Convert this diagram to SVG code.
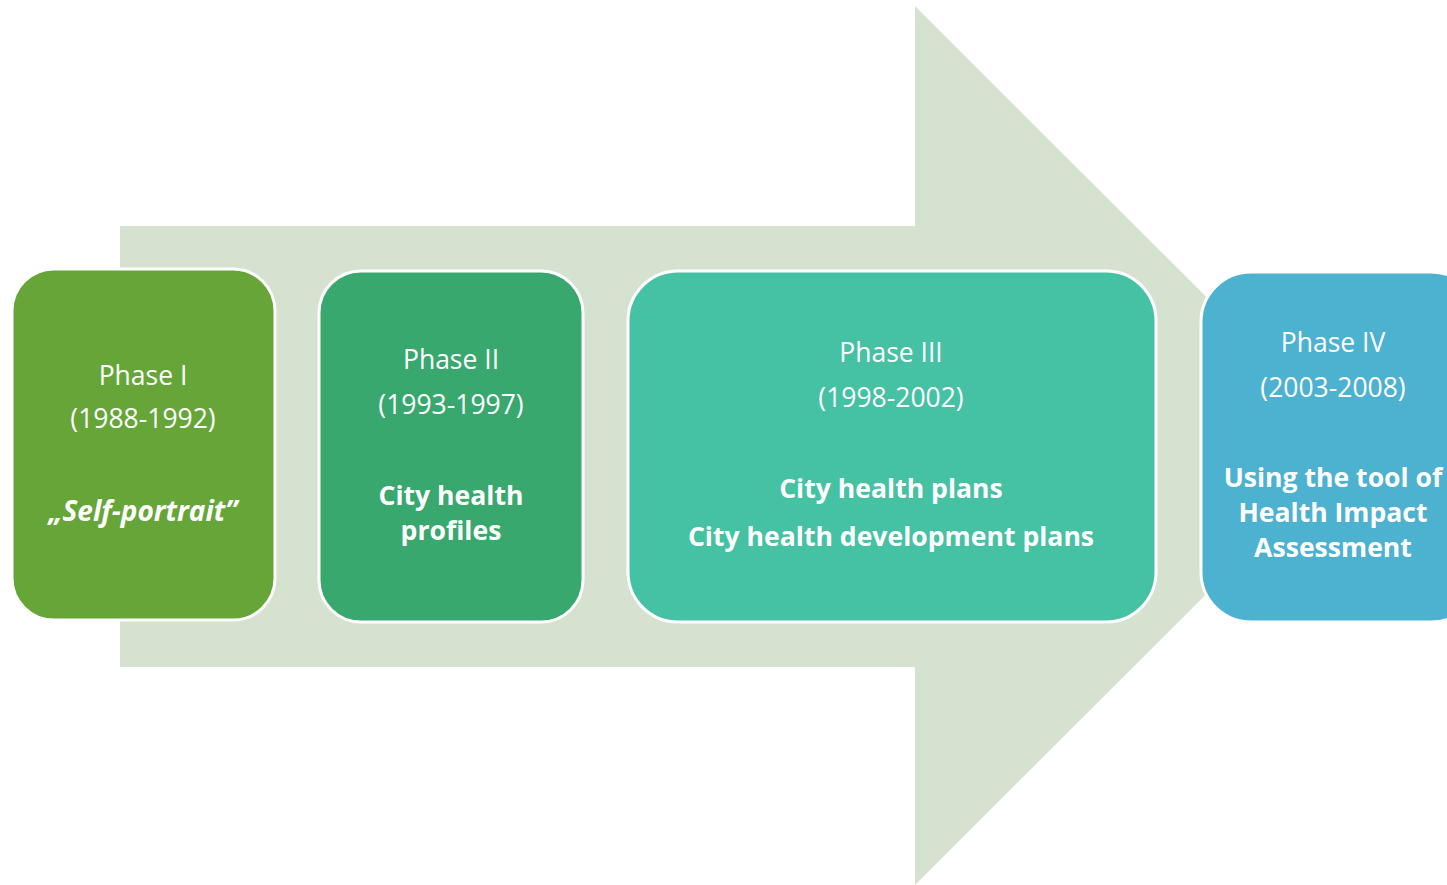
<svg xmlns="http://www.w3.org/2000/svg" width="1447" height="885" viewBox="0 0 1447 885">
<style>
.box{stroke:#ffffff;stroke-width:3}
text{font-family:"Open Sans","Liberation Sans",sans-serif;fill:#ffffff;text-anchor:middle}
.r{font-size:26.5px}
.b{font-size:26.6px;font-weight:bold}
.bi{font-size:28px;font-weight:bold;font-style:italic}
</style>
<rect width="1447" height="885" fill="#ffffff"/>
<g id="arrow">
<polygon points="120,226 915,226 915,6 1355,445.5 915,885 915,667 120,667" fill="#d6e2d0"/>
</g>
<g id="phase1">
<rect class="box" x="12" y="269" width="263" height="351" rx="42" fill="#66a638"/>
<text class="r" x="143" y="385">Phase I</text>
<text class="r" x="143" y="428">(1988-1992)</text>
<text class="bi" x="143" y="521">„Self-portrait”</text>
</g>
<g id="phase2">
<rect class="box" x="319" y="271" width="264" height="351" rx="42" fill="#38a86f"/>
<text class="r" x="451" y="369">Phase II</text>
<text class="r" x="451" y="414">(1993-1997)</text>
<text class="b" x="451" y="505">City health</text>
<text class="b" x="451" y="540">profiles</text>
</g>
<g id="phase3">
<rect class="box" x="628" y="271" width="528" height="351" rx="50" fill="#45c1a4"/>
<text class="r" x="891" y="362">Phase III</text>
<text class="r" x="891" y="407">(1998-2002)</text>
<text class="b" x="891" y="498">City health plans</text>
<text class="b" x="891" y="546">City health development plans</text>
</g>
<g id="phase4">
<rect class="box" x="1201" y="272" width="280" height="350" rx="50" fill="#4db1d0"/>
<text class="r" x="1333" y="352">Phase IV</text>
<text class="r" x="1333" y="397">(2003-2008)</text>
<text class="b" x="1333" y="487">Using the tool of</text>
<text class="b" x="1333" y="522">Health Impact</text>
<text class="b" x="1333" y="557">Assessment</text>
</g>
<g id="connectors"></g>
</svg>
